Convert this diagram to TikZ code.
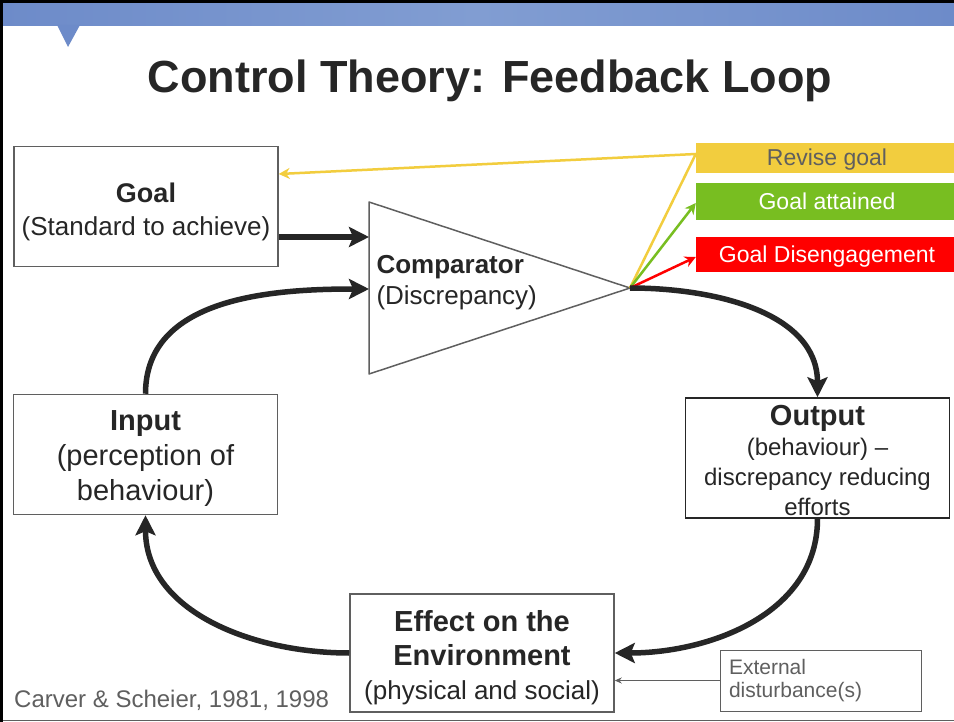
\documentclass[tikz,border=0pt]{standalone}
\usepackage{fontspec}
\setmainfont{Liberation Sans}
\usetikzlibrary{arrows.meta}
\usetikzlibrary{calc}

\definecolor{ink}{HTML}{262626}
\definecolor{frame}{HTML}{5F5F5F}
\definecolor{band}{HTML}{6D8BC9}
\definecolor{bandmid}{HTML}{819DD2}
\definecolor{revisecol}{HTML}{F2CD3E}
\definecolor{attaincol}{HTML}{78BE21}
\definecolor{disengcol}{HTML}{FF0000}

\newcommand{\fsz}[2]{\fontsize{#1}{#2}\selectfont}

\begin{document}
\begin{tikzpicture}[x=1pt, y=1pt,
    box/.style={draw=frame, line width=1.5pt, minimum width=264pt, minimum height=120pt, inner sep=0pt},
    boxtext/.style={align=center, text=ink, inner sep=0pt},
    loop/.style={draw=ink, line width=5.5pt, -{Stealth[length=20pt, width=20pt, inset=4pt]}},
    choice/.style={minimum width=262pt, inner sep=0pt, text height=17pt, text depth=1pt, font=\fsz{23}{28}},
    pick/.style={line width=2.5pt, -{Stealth[length=11pt, width=11pt]}}]
        \useasboundingbox (0,0) rectangle (954,-722);
        \fill[white] (0,0) rectangle (954,-722);

        % slide frame and header band
        \fill[black] (0,0) rectangle (954,-4);
        \shade[left color=band, right color=band, middle color=bandmid] (0,-4) rectangle (954,-26);
        \fill[band] (57,-25) -- (80,-25) -- (68,-47) -- cycle;
        \fill[black] (0,0) rectangle (3,-722);
        \draw[frame, line width=1pt] (3,-720) -- (954,-720);

        \node[text=ink, font=\fsz{45}{50}\bfseries] (title) at (490,-81) {Control Theory: Feedback Loop};

        % boxes of the loop
        \node[box] (goal) at (146,-206.5) {};
        \node[boxtext, font=\fsz{26}{33}] (goaltxt) at ([yshift=-5pt]goal.center) {{\fsz{27}{33}\bfseries Goal}\\(Standard to achieve)};
        \node[box] (input) at (145.5,-454.5) {};
        \node[boxtext, font=\fsz{29}{35}] (inputtxt) at ([yshift=-4pt]input.center) {{\bfseries Input}\\(perception of\\behaviour)};
        \node[box, draw=ink] (output) at (817.5,-458) {};
        \node[boxtext, font=\fsz{24}{30}] (outputtxt) at ([yshift=-2pt]output.center) {{\fsz{29}{31}\bfseries Output}\\(behaviour) --\\discrepancy reducing\\efforts};
        \node[box, minimum height=118pt] (effect) at (482,-653) {};
        \node[boxtext, font=\fsz{26}{34}] (effecttxt) at ([yshift=-5pt]effect.center) {{\fsz{29}{35}\bfseries Effect on the}\\{\fsz{29}{34}\bfseries Environment}\\(physical and social)};

        % comparator
        \coordinate (cmptop) at (369,-202);
        \coordinate (cmpbot) at (369,-374);
        \coordinate (tip) at (630,-288);
        \draw[frame, line width=1.5pt, line join=round] (cmptop) -- (tip) -- (cmpbot) -- cycle;
        \node[anchor=west, align=left, text=ink, font=\fsz{26}{31}] (cmptxt) at (373,-283) {{\bfseries Comparator}\\(Discrepancy)};
        \coordinate (cmpA) at (369,-237);
        \coordinate (cmpB) at (369,-289);

        % outcomes
        \node[choice, fill=revisecol, text=frame, minimum height=30pt] (revise) at (827,-158) {Revise goal};
        \node[choice, fill=attaincol, text=white, minimum height=37pt] (attain) at (827,-201.5) {Goal attained};
        \node[choice, fill=disengcol, text=white, minimum height=35pt] (diseng) at (827,-254.5) {Goal Disengagement};

        \draw[pick, revisecol] (tip) -- (revise.west |- 0,-154) -- (goal.east |- 0,-174);
        \draw[pick, attaincol] (tip) -- (attain.west |- 0,-203);
        \draw[pick, disengcol] (tip) -- (diseng.west |- 0,-257);

        % the loop
        \draw[loop] (goal.east |- cmpA) -- (cmpA);
        \draw[loop] (input.north) to[out=90, in=180] (cmpB);
        \draw[loop] (tip) to[out=0, in=90] (output.north);
        \draw[loop] (output.south) to[out=-90, in=0] (effect.east);
        \draw[loop] (effect.west) to[out=180, in=-90] (input.south);

        % disturbance and source
        \node[draw=frame, line width=0.8pt, minimum width=201pt, minimum height=61pt, text width=183pt, align=left, text=frame, font=\fsz{21}{23}] (extern) at (820.5,-680.5) {External\\disturbance(s)};
        \draw[frame, line width=0.8pt, -{Stealth[length=7pt, width=6pt]}] (extern.west) -- (effect.east |- extern.west);
        \node[anchor=west, inner sep=0pt, text=frame, font=\fsz{24}{28}] (source) at (14,-700) {Carver \& Scheier, 1981, 1998};
\end{tikzpicture}
\end{document}
